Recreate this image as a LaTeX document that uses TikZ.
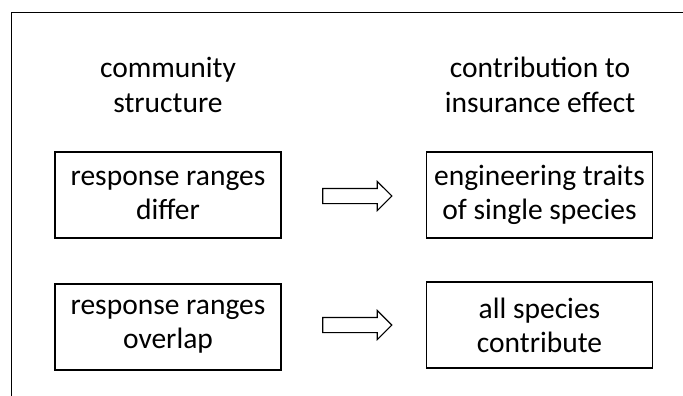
\documentclass[tikz,border=0pt]{standalone}
\usepackage{fontspec}
\setmainfont{Carlito}
\usetikzlibrary{shapes.arrows}
\begin{document}
\begin{tikzpicture}[x=1pt,y=-1pt,
  box/.style={draw,line width=1.4pt,minimum width=226pt,minimum height=86pt,align=center,inner sep=0pt,
    font=\fontsize{29.5}{34}\selectfont},
  head/.style={align=center,font=\fontsize{29.5}{35}\selectfont},
  blockarrow/.style={single arrow,draw,line width=1.1pt,minimum height=69pt,minimum width=28pt,
    inner ysep=7pt,inner xsep=0pt,text height=0pt,text depth=0pt,single arrow head extend=7pt,shape border rotate=0}]
\useasboundingbox (0,0) rectangle (683,396);
\draw[line width=1.4pt] (11.5,396) -- (11.5,12.5) -- (683,12.5);
\node[head] (h1) at (168,85) {community\\structure};
\node[head] (h2) at (540,85) {contribution to\\insurance effect};
\node[box] (b1) at (168,195) {response ranges\\differ};
\node[box] (b2) at (539.5,195) {engineering traits\\of single species};
\node[box] (b3) at (168,327) {response ranges\\overlap};
\node[box] (b4) at (539.5,325) {all species\\contribute};
\node[blockarrow] (a1) at (353.5,196) {};
\node[blockarrow] (a2) at (353.5,325) {};
\end{tikzpicture}
\end{document}
